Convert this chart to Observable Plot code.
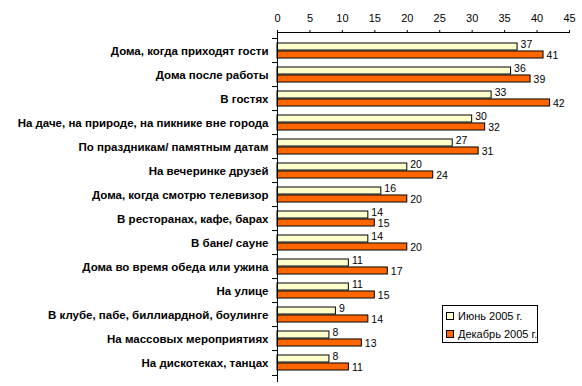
<!DOCTYPE html>
<html>
<head>
<meta charset="utf-8">
<script src="https://cdn.jsdelivr.net/npm/d3@7"></script>
<script src="https://cdn.jsdelivr.net/npm/@observablehq/plot@0.6"></script>
<style>
  body { margin: 0; background: #fff; }
  #wrap { position: relative; width: 582px; height: 386px; font-family: "Liberation Sans", Arial, sans-serif; }
  #legend { position: absolute; left: 442px; top: 305px; width: 94px; height: 36px; border: 1px solid #000; background: #fff; font-size: 11px; }
  .item { position: absolute; left: 3px; display: flex; align-items: center; white-space: nowrap; }
  .sw { width: 6px; height: 6px; border: 1px solid #000; margin-right: 4px; }
</style>
</head>
<body>
<div id="wrap"></div>
<script>
const categories = [
  "Дома, когда приходят гости",
  "Дома после работы",
  "В гостях",
  "На даче, на природе, на пикнике вне города",
  "По праздникам/ памятным датам",
  "На вечеринке друзей",
  "Дома, когда смотрю телевизор",
  "В ресторанах, кафе, барах",
  "В бане/ сауне",
  "Дома во время обеда или ужина",
  "На улице",
  "В клубе, пабе, биллиардной, боулинге",
  "На массовых мероприятиях",
  "На дискотеках, танцах"
];
const seriesNames = ["Июнь 2005 г.", "Декабрь 2005 г."];
const june = [37, 36, 33, 30, 27, 20, 16, 14, 14, 11, 11, 9, 8, 8];
const december = [41, 39, 42, 32, 31, 24, 20, 15, 20, 17, 15, 14, 13, 11];
const xTicks = [0, 5, 10, 15, 20, 25, 30, 35, 40, 45];
const colors = ["#FFFFCC", "#FF6600"];

const juneData = categories.map((c, i) => ({category: c, value: june[i]}));
const decData = categories.map((c, i) => ({category: c, value: december[i]}));

const width = 582, height = 386;
const mt = 32, mb = 5, ml = 277, mr = 13;
const pInner = 0.36, pOuter = 0.18;
const step = (height - mt - mb) / (categories.length - pInner + 2 * pOuter);
const bw = step * (1 - pInner);
const half = bw / 2;

const chart = Plot.plot({
  width, height,
  marginTop: mt, marginBottom: mb, marginLeft: ml, marginRight: mr,
  style: {fontFamily: "'Liberation Sans', Arial, sans-serif", background: "#fff", color: "#000"},
  x: {domain: [0, 45], label: null},
  y: {domain: categories, paddingInner: pInner, paddingOuter: pOuter, label: null},
  marks: [
    Plot.barX(juneData, {x: "value", y: "category", fill: colors[0], stroke: "#000", strokeWidth: 1, insetBottom: half}),
    Plot.barX(decData, {x: "value", y: "category", fill: colors[1], stroke: "#000", strokeWidth: 1, insetTop: half}),
    Plot.text(juneData, {x: "value", y: "category", text: d => String(d.value), dx: 3, dy: -6, textAnchor: "start", fontSize: 10.5}),
    Plot.text(decData, {x: "value", y: "category", text: d => String(d.value), dx: 3, dy: 4.5, textAnchor: "start", fontSize: 10.5}),
    Plot.axisX(xTicks, {anchor: "top", tickSize: 3, tickPadding: 8, fontSize: 11, label: null}),
    Plot.axisY({tickSize: 0, tickPadding: 9, fontSize: 11.5, fontWeight: "bold", label: null}),
    Plot.axisY(categories, {tickSize: 5, tickFormat: () => "", dy: -step / 2, label: null}),
    Plot.axisY([categories[categories.length - 1]], {tickSize: 5, tickFormat: () => "", dy: step / 2, label: null}),
    Plot.frame({anchor: "top"}),
    Plot.frame({anchor: "left"})
  ]
});
document.getElementById("wrap").appendChild(chart);

const legend = document.createElement("div");
legend.id = "legend";
seriesNames.forEach((name, i) => {
  const it = document.createElement("div");
  it.className = "item";
  it.style.top = (i === 0 ? 4 : 22) + "px";
  const sw = document.createElement("div");
  sw.className = "sw";
  sw.style.background = colors[i];
  const t = document.createElement("span");
  t.textContent = name;
  it.appendChild(sw);
  it.appendChild(t);
  legend.appendChild(it);
});
document.getElementById("wrap").appendChild(legend);
</script>
</body>
</html>
